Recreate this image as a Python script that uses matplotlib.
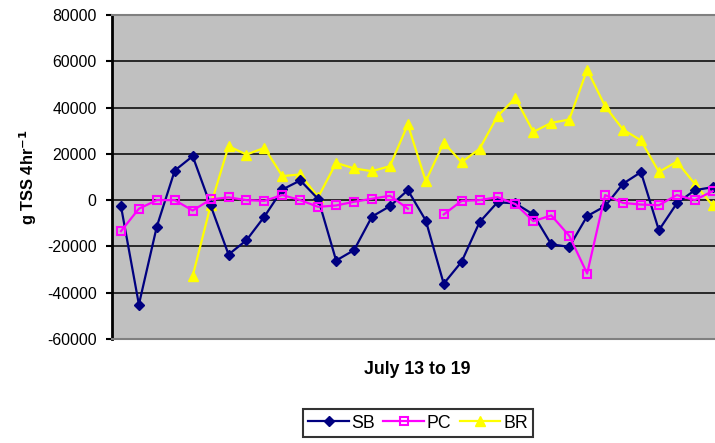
import numpy as np
import matplotlib
matplotlib.use("Agg")
import matplotlib.pyplot as plt

nan = np.nan
sb = [-2600, -45100, -11400, 12800, 19000, -2300, -23500, -17300, -7100, 4600,
      8500, 500, -26100, -21600, -7100, -2600, 4300, -8800, -36100, -26600,
      -9500, -900, -1400, -6200, -19100, -20200, -6900, -2600, 7100, 12100,
      -13000, -1400, 4300, 5600]
pc = [-13400, -3700, 0, 0, -4500, 300, 1200, 0, -300, 2200,
      0, -2900, -2300, -700, 600, 1900, -3700, nan, -6200, -300,
      0, 1300, -1700, -9100, -6600, -15400, -31700, 2200, -1200, -1900,
      -2200, 2200, 0, 3900]
br = [nan, nan, nan, nan, -32800, -2300, 23300, 19700, 22600, 10400,
      11100, 1300, 16100, 13700, 12500, 14700, 32700, 8200, 24800, 16400,
      22200, 36300, 44100, 29500, 33400, 34800, 56400, 40600, 30500, 25800,
      12200, 16600, 7100, -2300]
yticks = [80000, 60000, 40000, 20000, 0, -20000, -40000, -60000]

plt.rcParams['font.family'] = ['Liberation Sans', 'DejaVu Sans']
fig = plt.figure(figsize=(7.15, 4.43), dpi=100)
ax = fig.add_axes([112/715, 1-339/443, 1-112/715, (339-15)/443])
ax.set_facecolor('#C0C0C0')
x = np.arange(len(sb))

ax.plot(x, sb, color='#000080', lw=1.6, marker='D', ms=5.5, mfc='#000080', mec='#000080', label='SB', zorder=3)
ax.plot(x, pc, color='#FF00FF', lw=1.6, marker='s', ms=6, mfc='none', mec='#FF00FF', mew=1.5, label='PC', zorder=4)
ax.plot(x, br, color='#FFFF00', lw=1.6, marker='^', ms=7.5, mfc='#FFFF00', mec='#FFFF00', label='BR', zorder=2)

ax.set_xlim(-0.5, 33.13)
ax.set_ylim(-60000, 80000)
ax.set_yticks(yticks)
ax.set_yticklabels([str(v) for v in yticks], fontsize=11.4)
ax.set_xticks([])
ax.yaxis.grid(True, color='black', lw=1.1)
ax.set_axisbelow(True)
ax.tick_params(axis='y', direction='out', length=4.5, width=1.5, pad=6.5)
for s in ['top', 'bottom', 'right']:
    ax.spines[s].set_color('#808080')
    ax.spines[s].set_linewidth(1.5)
ax.spines['right'].set_visible(False)
ax.spines['left'].set_color('black')
ax.spines['left'].set_linewidth(2)

ax.set_ylabel('g TSS 4hr$^{\\mathbf{-1}}$', fontsize=11.8, fontweight='bold', labelpad=6)
fig.text(417.5/715, 1-370/443, 'July 13 to 19', ha='center', va='center', fontsize=12.8, fontweight='bold')

leg = fig.legend(loc='center', bbox_to_anchor=(418/715, 1-423/443), ncol=3, fontsize=12.8,
                 frameon=True, fancybox=False, edgecolor='black', handlelength=2.3,
                 columnspacing=0.45, handletextpad=0.15, borderpad=0.3, borderaxespad=0)
leg.get_frame().set_linewidth(1.5)

fig.savefig('out.png', dpi=100)
